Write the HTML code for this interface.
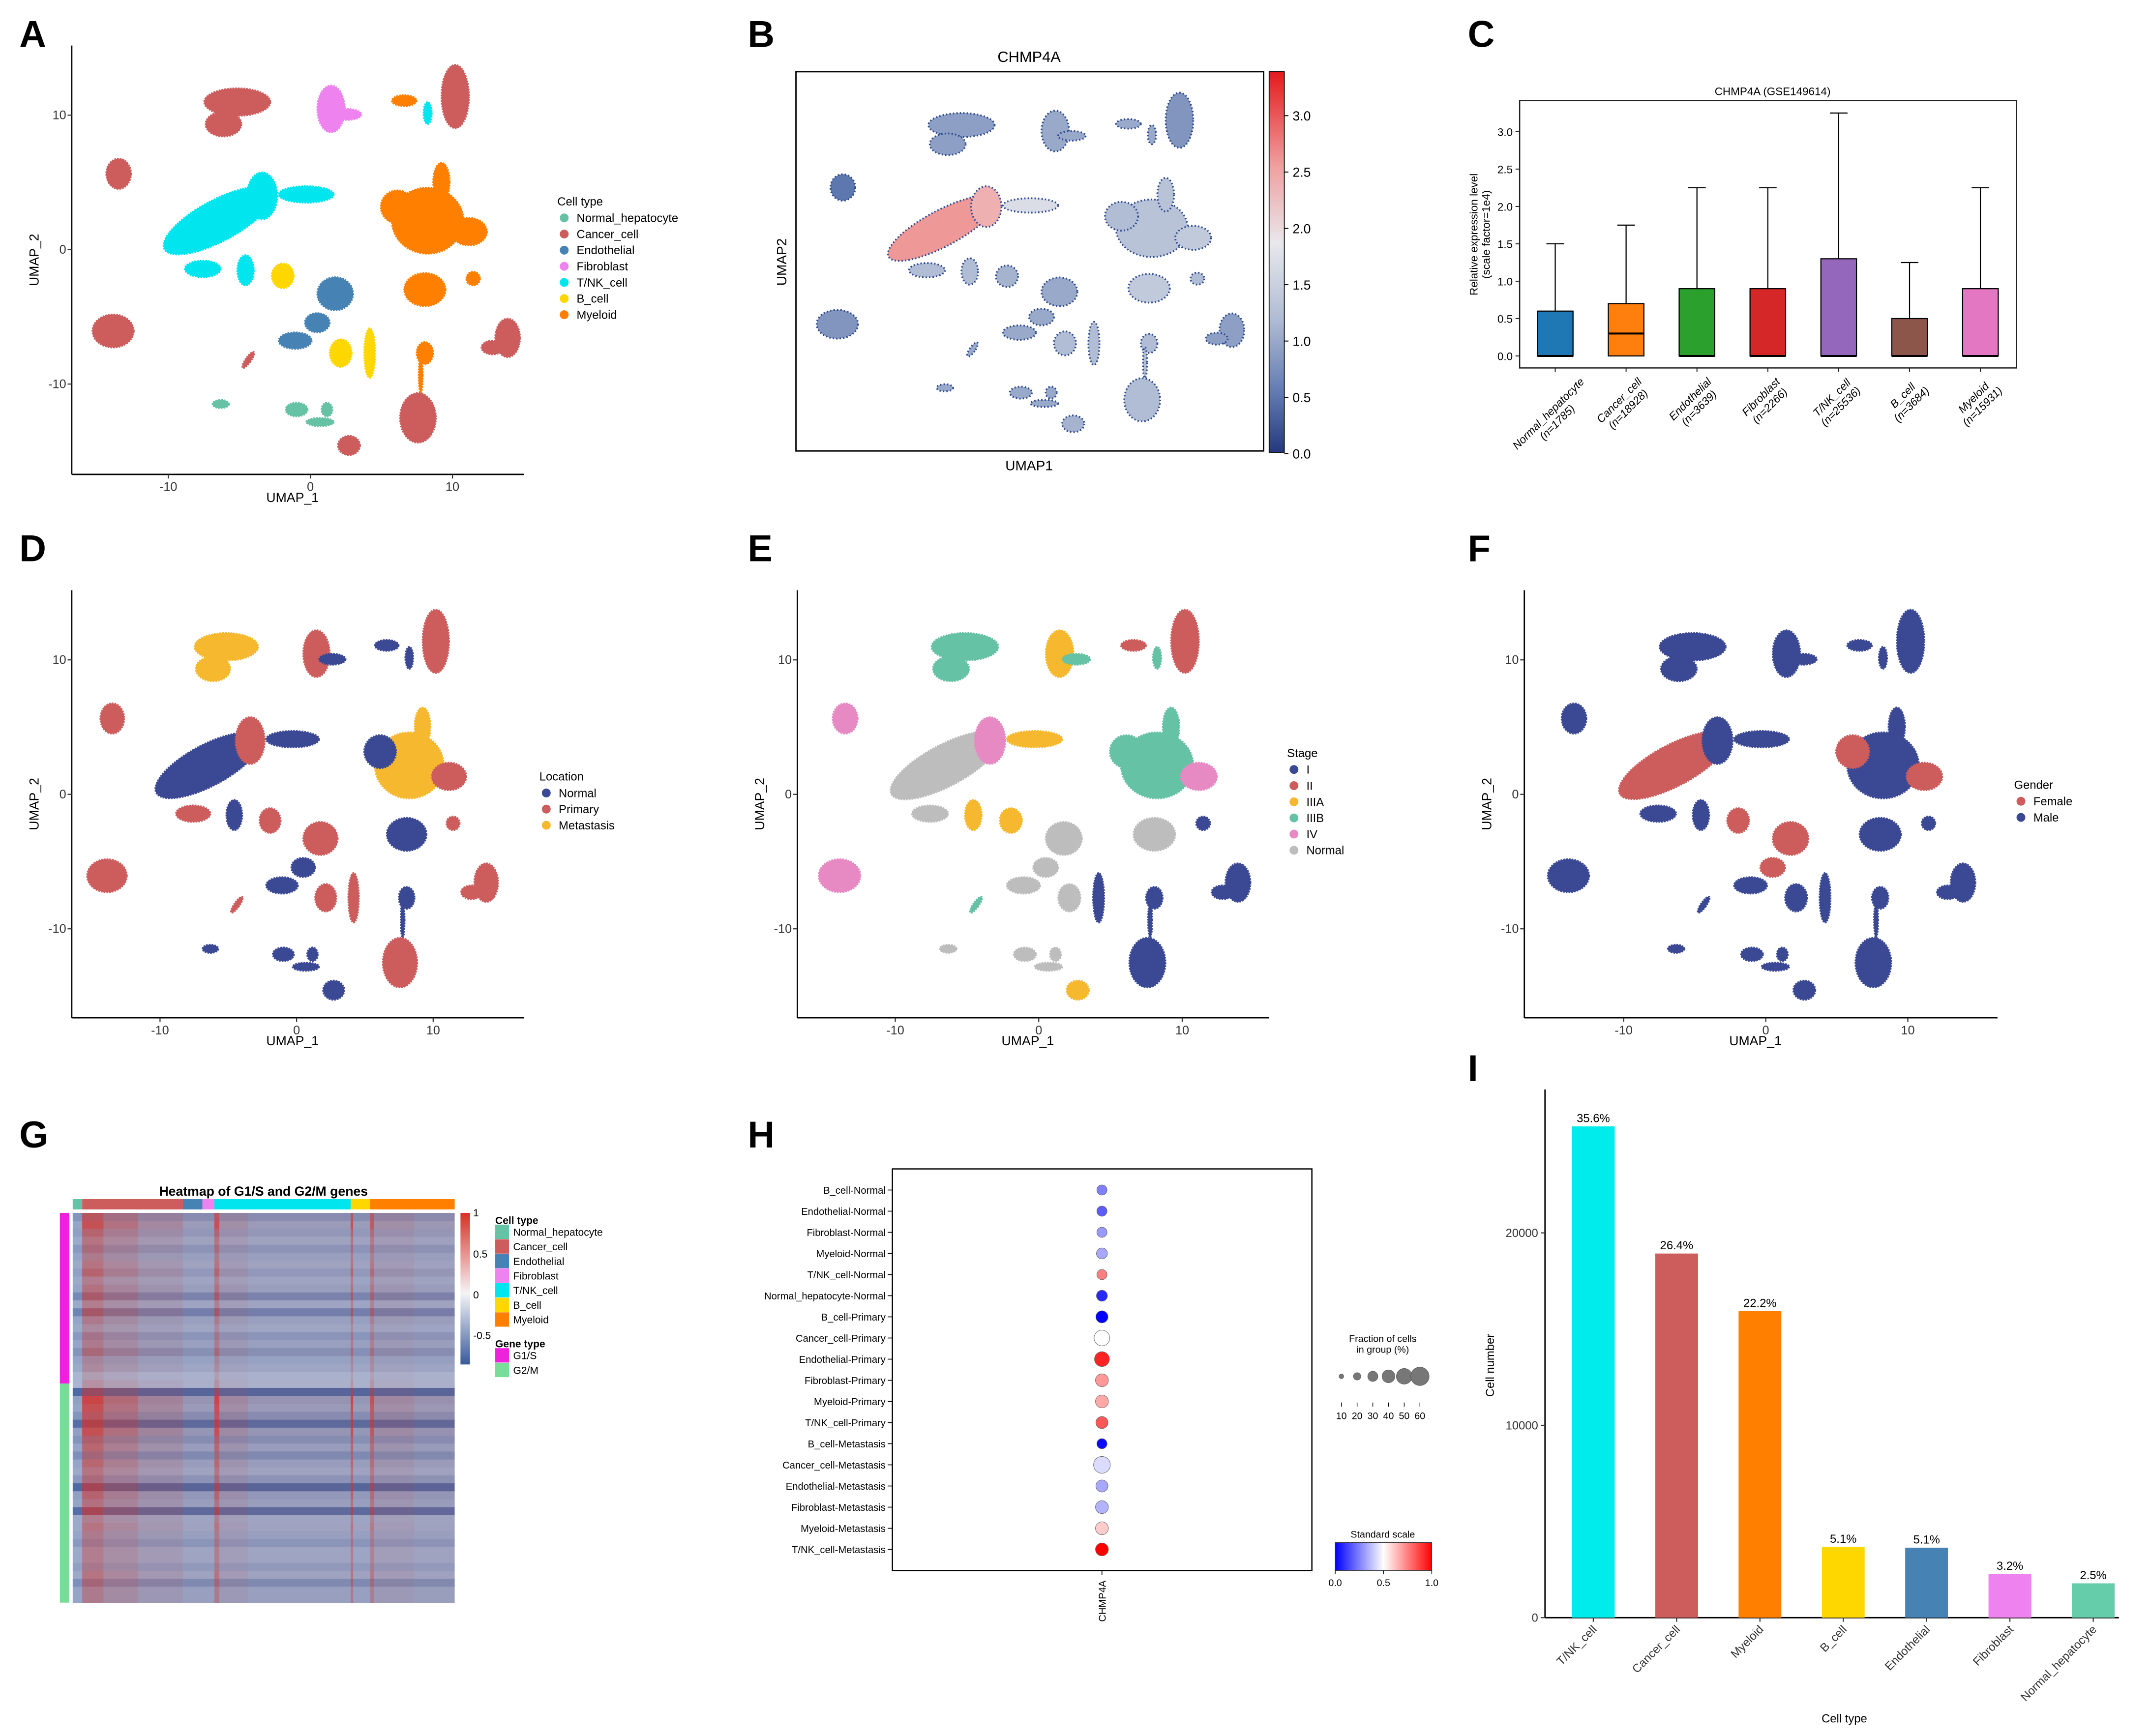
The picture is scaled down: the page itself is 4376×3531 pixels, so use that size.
<!DOCTYPE html>
<html><head><meta charset="utf-8"><style>
html,body{margin:0;padding:0;background:#fff;}
svg{display:block;font-family:"Liberation Sans",Arial,sans-serif;}
</style></head><body>
<svg id="fig" xmlns="http://www.w3.org/2000/svg" width="4376" height="3531" viewBox="0 0 1560 1258.8" preserveAspectRatio="none">
<defs>
<linearGradient id="gB" x1="0" y1="0" x2="0" y2="1">
<stop offset="0" stop-color="#e41a1c"/><stop offset="0.25" stop-color="#f0a0a0"/><stop offset="0.45" stop-color="#e8e8ec"/><stop offset="0.65" stop-color="#b0bcd4"/><stop offset="0.85" stop-color="#5e78b0"/><stop offset="1" stop-color="#26397f"/>
</linearGradient>
<linearGradient id="gG" x1="0" y1="0" x2="0" y2="1">
<stop offset="0" stop-color="#d73027"/><stop offset="0.53" stop-color="#f4f4f6"/><stop offset="1" stop-color="#3a5a9a"/>
</linearGradient>
<linearGradient id="gH" x1="0" y1="0" x2="1" y2="0">
<stop offset="0" stop-color="#0000ff"/><stop offset="0.5" stop-color="#ffffff"/><stop offset="1" stop-color="#ff0000"/>
</linearGradient>
</defs>
<rect x="0" y="0" width="1560" height="1258.8" fill="#fff"/>
</svg>
<script>
// ---------- data ----------
const cellTypes=["Normal_hepatocyte","Cancer_cell","Endothelial","Fibroblast","T/NK_cell","B_cell","Myeloid"];
const cellColors=["#66c2a5","#cd5c5c","#4682b4","#ee82ee","#00e5ee","#ffd700","#ff7f00"];
const locNames=["Normal","Primary","Metastasis"];
const locColors=["#3b4994","#cd5c5c","#f5b82e"];
const stageNames=["I","II","IIIA","IIIB","IV","Normal"];
const stageColors=["#3b4994","#cd5c5c","#f5b82e","#66c2a5","#e78ac3","#bdbdbd"];
const genderNames=["Female","Male"];
const genderColors=["#cd5c5c","#3b4994"];
// cluster blobs in panel-A pixel space: cx, cy, rx, ry
const blobCX=[172,162,240,252,293,310,330,86,158,190,222,147,178,205,310,288,340,320,308,343,243,230,214,247,268,180,308,305,368,357,82,160,215,232,237,253,303];
const blobCY=[74,90,79,83,73,82,70,126,160,142,141,195,196,200,160,150,168,132,210,202,213,234,247,256,256,261,256,272,245,252,240,293,297,306,297,323,303];
const blobRX=[24,13,10,10,9,3,10,9,44,11,20,13,6,8,26,12,13,6,15,5,13,9,12,8,4,2,6,1.5,9,8,15,6,8,10,4,8,13];
const blobRY=[10,9,17,4,4,8,23,11,15,17,6,6,11,9,24,12,10,14,12,5,12,7,6,10,18,7,8,13,14,5,12,3,5,3,5,7,18];
const blobRot=[0,0,0,0,0,0,0,0,-28,0,0,0,0,0,0,0,0,0,0,0,0,0,0,0,0,35,0,0,0,0,0,0,0,0,0,0,0];
const blobCell=[1,1,3,3,6,4,1,1,4,4,4,4,4,5,6,6,6,6,6,6,2,2,2,5,5,1,6,6,1,1,1,0,0,0,0,1,1];
const blobLoc=[2,2,1,0,0,0,1,1,0,1,0,1,0,1,2,0,1,2,0,1,1,0,0,1,1,1,0,0,1,1,1,0,0,0,0,0,1];
const blobStage=[3,3,2,3,1,3,1,4,5,4,2,5,2,2,3,3,4,3,5,0,5,5,5,5,0,3,0,0,0,0,4,5,5,5,5,2,0];
const blobGender=[1,1,1,1,1,1,1,1,0,1,1,1,1,0,1,0,0,1,1,1,0,0,1,1,1,1,1,1,1,1,1,1,1,1,1,1,1];
const blobExpr=[0.9,0.9,1.0,1.0,1.0,1.0,0.8,0.5,2.6,2.4,1.7,1.2,1.2,1.1,1.3,1.2,1.4,1.3,1.4,1.2,1.0,1.0,1.0,1.2,1.2,1.0,1.2,1.2,0.9,0.9,0.8,1.0,1.0,1.0,1.0,1.1,1.2];
// C: box plot
const boxCats=["Normal_hepatocyte","Cancer_cell","Endothelial","Fibroblast","T/NK_cell","B_cell","Myeloid"];
const boxN=["n=1785","n=18928","n=3639","n=2266","n=25536","n=3684","n=15931"];
const boxQ1=[0,0,0,0,0,0,0];
const boxMed=[0,0.3,0,0,0,0,0];
const boxQ3=[0.6,0.7,0.9,0.9,1.3,0.5,0.9];
const boxWhisk=[1.5,1.75,2.25,2.25,3.25,1.25,2.25];
const boxColors=["#1f77b4","#ff7f0e","#2ca02c","#d62728","#9467bd","#8c564b","#e377c2"];
const boxTicks=[0,0.5,1,1.5,2,2.5,3];
// G: heatmap
const hmSegNames=["Normal_hepatocyte","Cancer_cell","Endothelial","Fibroblast","T/NK_cell","B_cell","Myeloid"];
const hmSegEdges=[52.7,59.6,132.6,146.7,155.4,254.2,268.3,329.6];
const rowShade=[-0.5,-0.35,-0.4,-0.3,-0.45,-0.35,-0.3,-0.4,-0.3,-0.35,-0.6,-0.3,-0.65,-0.35,-0.3,-0.45,-0.35,-0.5,-0.35,-0.3,-0.2,
 -0.2,-0.9,-0.4,-0.35,-0.5,-0.85,-0.4,-0.5,-0.35,-0.55,-0.35,-0.3,-0.45,-0.9,-0.4,-0.35,-0.85,-0.3,-0.3,-0.35,-0.45,-0.3,-0.3,-0.4,-0.3,-0.55,-0.35,-0.35];
const rowHot=[0.7,0.8,0.6,0.5,0.5,0.4,0.5,0.6,0.4,0.5,0.6,0.4,0.6,0.4,0.3,0.4,0.4,0.5,0.3,0.3,0.2,
 0.3,0.6,0.9,0.8,0.7,0.8,0.8,0.6,0.6,0.5,0.6,0.5,0.5,0.7,0.6,0.5,0.7,0.4,0.5,0.4,0.4,0.4,0.4,0.4,0.5,0.5,0.4,0.4];
const hotX0=[59.6,75,100,132.6,155.4,159,180,254.2,256,268.3,271,300];
const hotX1=[75,100,132.6,155.4,159,180,254.2,256,268.3,271,300,329.6];
const hotS=[0.9,0.55,0.3,0.12,0.9,0.25,0.12,0.9,0.1,0.8,0.25,0.15];
// H: dot plot
const dotRows=["B_cell-Normal","Endothelial-Normal","Fibroblast-Normal","Myeloid-Normal","T/NK_cell-Normal","Normal_hepatocyte-Normal","B_cell-Primary","Cancer_cell-Primary","Endothelial-Primary","Fibroblast-Primary","Myeloid-Primary","T/NK_cell-Primary","B_cell-Metastasis","Cancer_cell-Metastasis","Endothelial-Metastasis","Fibroblast-Metastasis","Myeloid-Metastasis","T/NK_cell-Metastasis"];
const dotFrac=[30,30,30,33,30,33,37,50,47,40,40,37,30,54,37,40,40,40];
const dotScale=[0.25,0.18,0.3,0.33,0.75,0.08,0.0,0.5,0.93,0.7,0.67,0.83,0.02,0.43,0.33,0.35,0.6,1.0];
const fracLegend=[10,20,30,40,50,60];
// I: bars
const barCats=["T/NK_cell","Cancer_cell","Myeloid","B_cell","Endothelial","Fibroblast","Normal_hepatocyte"];
const barVals=[25536,18928,15931,3684,3639,2266,1785];
const barPct=["35.6%","26.4%","22.2%","5.1%","5.1%","3.2%","2.5%"];
const barColors=["#00ebeb","#cd5c5c","#ff7f00","#ffd700","#4682b4","#ee82ee","#66cdaa"];
const barTicks=[0,10000,20000];

// ---------- helpers ----------
const NS="http://www.w3.org/2000/svg";
const svg=document.getElementById("fig");
function mk(tag,attrs,parent){const e=document.createElementNS(NS,tag);for(const k in attrs)e.setAttribute(k,attrs[k]);(parent||svg).appendChild(e);return e;}
function tx(x,y,s,size,anchor,parent,extra){const e=mk("text",Object.assign({x:x,y:y,"font-size":size,"text-anchor":anchor||"start",fill:"#000"},extra||{}),parent);e.textContent=s;return e;}
function grp(parent){return mk("g",{},parent);}

// panel letters
const letters=[["A",14,34],["B",542,34],["C",1064,34],["D",14,407],["E",542,407],["F",1064,407],["G",14,832],["H",542,832],["I",1064,784]];
letters.forEach(l=>{const t=tx(l[1],l[2],l[0],27,"start",svg,{"font-weight":"bold"});

});

// ---------- UMAP panels ----------
function umapPanel(id,ox,oy,sx,sy,colorFn,axis,legend){
  const g=grp();
  
  
  const pts=grp(g);
  
  
  for(let i=0;i<blobCX.length;i++){
    const cx=ox+(blobCX[i]-225)*sx, cy=oy+(blobCY[i]-181)*sy;
    const c=colorFn(i);
    const e=mk("ellipse",{cx:cx,cy:cy,rx:blobRX[i]*sx,ry:blobRY[i]*sy,fill:c.fill,stroke:c.stroke||c.fill,"stroke-width":c.sw||1.2,"stroke-dasharray":c.dash||"1.2 0.8",transform:"rotate("+blobRot[i]+" "+cx+" "+cy+")"},pts);
    
    
  }
  if(axis){
    const ax=grp(g);
    
    
    mk("line",{x1:axis.x0,y1:axis.y1,x2:axis.x1,y2:axis.y1,stroke:"#000","stroke-width":1},ax);
    mk("line",{x1:axis.x0,y1:axis.y0,x2:axis.x0,y2:axis.y1,stroke:"#000","stroke-width":1},ax);
    [-10,0,10].forEach(u=>{const x=ox+u*10.3*sx;
      mk("line",{x1:x,y1:axis.y1,x2:x,y2:axis.y1+3,stroke:"#333","stroke-width":0.8},ax);
      const t=tx(x,axis.y1+12,String(u),9,"middle",ax,{fill:"#333"});
      
      });
    [10,0,-10].forEach(v=>{const y=oy-v*9.75*sy;
      mk("line",{x1:axis.x0-3,y1:y,x2:axis.x0,y2:y,stroke:"#333","stroke-width":0.8},ax);
      const t=tx(axis.x0-4,y+3,String(v),9,"end",ax,{fill:"#333"});
      
      });
    const xl=tx((axis.x0+axis.x1)/2-4,axis.y1+20,"UMAP_1",9.5,"middle",ax);
    
    
    const yc=(axis.y0+axis.y1)/2;
    const yl=tx(axis.x0-24,yc,"UMAP_2",9.5,"middle",ax,{transform:"rotate(-90 "+(axis.x0-24)+" "+yc+")"});
    
    
  }
  if(legend){
    const lg=grp(g);
    
    
    const t=tx(legend.x,legend.y,legend.title,8.5,"start",lg);
    
    
    legend.names.forEach((n,k)=>{const y=legend.y+12+k*11.7;
      const c=mk("circle",{cx:legend.x+5,cy:y-3,r:3.2,fill:legend.colors[k]},lg);
      
      
      const tt=tx(legend.x+14,y,n,8.5,"start",lg);
      
      });
  }
  return g;
}
umapPanel("a",225,181,1,1,i=>({fill:cellColors[blobCell[i]]}),{x0:52,x1:380,y0:33,y1:344},{x:404,y:149,title:"Cell type",names:cellTypes,colors:cellColors});
umapPanel("d",215,576,99/103,1,i=>({fill:locColors[blobLoc[i]]}),{x0:52,x1:380,y0:428,y1:738},{x:391,y:566,title:"Location",names:locNames,colors:locColors});
umapPanel("e",753,576,104/103,1,i=>({fill:stageColors[blobStage[i]]}),{x0:578,x1:920,y0:428,y1:738},{x:933,y:549,title:"Stage",names:stageNames,colors:stageColors});
umapPanel("f",1280,576,1,1,i=>({fill:genderColors[blobGender[i]]}),{x0:1105,x1:1448,y0:428,y1:738},{x:1460,y:572,title:"Gender",names:genderNames,colors:genderColors});

// B: expression
function exprColor(v){const f=Math.max(0,Math.min(1,v/3.4));
  const stops=[[0,[38,57,127]],[0.15,[94,120,176]],[0.35,[176,188,212]],[0.55,[232,232,236]],[0.75,[240,160,160]],[1,[228,26,28]]];
  for(let k=1;k<stops.length;k++){if(f<=stops[k][0]){const a=stops[k-1],b=stops[k],t=(f-a[0])/(b[0]-a[0]);
    return "rgb("+a[1].map((c,j)=>Math.round(c+(b[1][j]-c)*t)).join(",")+")";}}return "rgb(228,26,28)";}
const bFrame=mk("rect",{x:577,y:52,width:339,height:275,fill:"none",stroke:"#000","stroke-width":1});


umapPanel("b",525+225,26.3+0.87*181,1,0.87,i=>({fill:exprColor(blobExpr[i]),stroke:"#2e4a8f",sw:1.3,dash:"1 1.5"}),null,null);
{const t=tx(746,45,"CHMP4A",11,"middle");
 const x=tx(746,341,"UMAP1",10,"middle");
 const y=tx(570,190,"UMAP2",10,"middle",svg,{transform:"rotate(-90 570 190)"});
 const cb=mk("rect",{x:920,y:52,width:11,height:276,fill:"url(#gB)",stroke:"#000","stroke-width":0.6});
 
 [0,0.5,1,1.5,2,2.5,3].forEach(v=>{const y=329-v*81.7;
   mk("line",{x1:931,y1:y,x2:934,y2:y,stroke:"#000","stroke-width":0.7});
   const t=tx(937,y+3.5,v.toFixed(1),9.5,"start");});}

// ---------- C: box plot ----------
{const g=grp();
 const X0=1101.6,X1=1461.7,Y0=72.9,Y1=266.8;
 const yS=v=>258.1-v*54.2;
 const xS=i=>1127.4+i*51.37;
 const fr=mk("rect",{x:X0,y:Y0,width:X1-X0,height:Y1-Y0,fill:"none",stroke:"#222","stroke-width":0.9},g);
 
 const t=tx(1285,69,"CHMP4A (GSE149614)",8,"middle",g);
 boxTicks.forEach(v=>{const y=yS(v);mk("line",{x1:X0-3,y1:y,x2:X0,y2:y,stroke:"#222","stroke-width":0.7},g);
   const l=tx(X0-5,y+3,v.toFixed(1),8,"end",g);});
 const yl1=tx(1071,170,"Relative expression level",8,"middle",g,{transform:"rotate(-90 1071 170)"});
 
 const yl2=tx(1080,170,"(scale factor=1e4)",8,"middle",g,{transform:"rotate(-90 1080 170)"});
 
 boxCats.forEach((c,i)=>{const x=xS(i),hw=12.9;
   const w=mk("line",{x1:x,y1:yS(boxQ3[i]),x2:x,y2:yS(boxWhisk[i]),stroke:"#000","stroke-width":0.8},g);
   
   mk("line",{x1:x-6.4,y1:yS(boxWhisk[i]),x2:x+6.4,y2:yS(boxWhisk[i]),stroke:"#000","stroke-width":0.8},g);
   const b=mk("rect",{x:x-hw,y:yS(boxQ3[i]),width:2*hw,height:yS(boxQ1[i])-yS(boxQ3[i]),fill:boxColors[i],stroke:"#000","stroke-width":0.8},g);
   
   const m=mk("line",{x1:x-hw,y1:yS(boxMed[i]),x2:x+hw,y2:yS(boxMed[i]),stroke:"#000","stroke-width":1.4},g);
   
   mk("line",{x1:x,y1:Y1,x2:x,y2:Y1+3,stroke:"#222","stroke-width":0.7},g);
   const lg=grp(g);
   const a=tx(0,-1.5,c,8,"middle",lg,{"font-style":"italic"});
   const bb=tx(0,7.5,"("+boxN[i]+")",8,"middle",lg,{"font-style":"italic"});
   const L=Math.max(a.getComputedTextLength(),bb.getComputedTextLength());
   const cy=272+(L+18)*0.707/2, cx=x-2;
   lg.setAttribute("transform","translate("+cx+" "+cy+") rotate(-45)");});}

// ---------- G: heatmap ----------
{const g=grp();
 const t=tx(191,867,"Heatmap of G1/S and G2/M genes",9.5,"middle",g,{"font-weight":"bold"});
 
 for(let k=0;k<hmSegNames.length;k++){const r=mk("rect",{x:hmSegEdges[k],y:869.5,width:hmSegEdges[k+1]-hmSegEdges[k],height:7.5,fill:cellColors[k]},g);
   }
 const Y0=879.5,Y1=1162.1,rh=(Y1-Y0)/rowShade.length;
 const shadeColor=v=>{const a=[240,240,244],b=[58,90,154];const t=Math.min(1,-v/1.05);return "rgb("+a.map((c,j)=>Math.round(c+(b[j]-c)*(0.25+0.75*t))).join(",")+")";};
 rowShade.forEach((v,i)=>{const r=mk("rect",{x:52.7,y:Y0+i*rh,width:276.9,height:rh+0.2,fill:shadeColor(v)},g);
   
   hotX0.forEach((x0,k)=>{const h=mk("rect",{x:x0,y:Y0+i*rh,width:hotX1[k]-x0,height:rh+0.2,fill:"#d73027","fill-opacity":(hotS[k]*rowHot[i]).toFixed(3)},g);
     });});
 const gs=mk("rect",{x:43.4,y:879.5,width:6.9,height:123.7,fill:"#ee22dd"},g);
 const gm=mk("rect",{x:43.4,y:1003.2,width:6.9,height:158.9,fill:"#77dd99"},g);
 const cb=mk("rect",{x:333.8,y:879.5,width:6.9,height:109.9,fill:"url(#gG)"},g);
 [["1",882],["0.5",912],["0",941.5],["-0.5",971]].forEach(l=>{const e=tx(343,l[1],l[0],7.5,"start",g);});
 const lt=tx(359,887.5,"Cell type",7.5,"start",g,{"font-weight":"bold"});
 cellTypes.forEach((n,k)=>{const y=888+k*10.6;const s=mk("rect",{x:359,y:y,width:10,height:10.4,fill:cellColors[k]},g);
   
   const e=tx(372,y+8,n,7.5,"start",g);});
 const gt=tx(359,977,"Gene type",7.5,"start",g,{"font-weight":"bold"});
 [["G1/S","#ee22dd"],["G2/M","#77dd99"]].forEach((p,k)=>{const y=977.6+k*10.6;const s=mk("rect",{x:359,y:y,width:10,height:10.4,fill:p[1]},g);
   
   const e=tx(372,y+8,p[0],7.5,"start",g);});}

// ---------- H: dot plot ----------
{const g=grp();
 const fr=mk("rect",{x:646.9,y:847.6,width:304.1,height:291.2,fill:"none",stroke:"#000","stroke-width":0.9},g);
 
 const yR=i=>862.9+i*15.33, xD=798.8;
 const rad=f=>(2+0.29*f)/2.898;
 const col=v=>v<0.5?"rgb("+Math.round(510*v)+","+Math.round(510*v)+",255)":"rgb(255,"+Math.round(510*(1-v))+","+Math.round(510*(1-v))+")";
 dotRows.forEach((n,i)=>{const y=yR(i);
   mk("line",{x1:643.5,y1:y,x2:646.9,y2:y,stroke:"#000","stroke-width":0.6},g);
   const l=tx(642,y+2.7,n,7.2,"end",g);
   const c=mk("circle",{cx:xD,cy:y,r:rad(dotFrac[i]),fill:col(dotScale[i]),stroke:"#666","stroke-width":0.35},g);
   });
 mk("line",{x1:xD,y1:1138.8,x2:xD,y2:1142,stroke:"#000","stroke-width":0.6},g);
 const xl=tx(801.5,1161,"CHMP4A",7.2,"middle",g,{transform:"rotate(-90 801.5 1161)"});
 const f1=tx(1002.4,973,"Fraction of cells",7,"middle",g);
 const f2=tx(1002.4,981,"in group (%)",7,"middle",g);
 fracLegend.forEach((f,k)=>{const x=972.4+k*11.38;
   const c=mk("circle",{cx:x,cy:998,r:rad(f),fill:"#777",stroke:"#555","stroke-width":0.3},g);
   mk("line",{x1:x,y1:1017,x2:x,y2:1020,stroke:"#000","stroke-width":0.5},g);
   const t=tx(x,1029,String(f),7,"middle",g);});
 const st=tx(1002.4,1115,"Standard scale",7,"middle",g);
 const cb=mk("rect",{x:967.9,y:1118.5,width:70,height:20.3,fill:"url(#gH)",stroke:"#333","stroke-width":0.4},g);
 [["0.0",967.9],["0.5",1002.9],["1.0",1037.9]].forEach(p=>{mk("line",{x1:p[1],y1:1138.8,x2:p[1],y2:1141.5,stroke:"#000","stroke-width":0.5},g);
   const t=tx(p[1],1150,p[0],7,"middle",g);});}

// ---------- I: bar chart ----------
{const g=grp();
 const yS=v=>1173-v*0.01395, xS=i=>1155+i*60.4, bw=31;
 mk("line",{x1:1120,y1:790,x2:1120,y2:1173,stroke:"#000","stroke-width":1},g);
 mk("line",{x1:1120,y1:1173,x2:1536,y2:1173,stroke:"#000","stroke-width":1},g);
 barTicks.forEach(v=>{const y=yS(v);mk("line",{x1:1117,y1:y,x2:1120,y2:y,stroke:"#333","stroke-width":0.8},g);
   const t=tx(1115,y+3,String(v),8.5,"end",g,{fill:"#333"});});
 barCats.forEach((c,i)=>{const x=xS(i);
   const b=mk("rect",{x:x-bw/2,y:yS(barVals[i]),width:bw,height:1173-yS(barVals[i]),fill:barColors[i]},g);
   
   const p=tx(x,yS(barVals[i])-3,barPct[i],8.5,"middle",g);
   mk("line",{x1:x,y1:1173,x2:x,y2:1176,stroke:"#333","stroke-width":0.8},g);
   const l=tx(x+3,1182,c,8.5,"end",g,{fill:"#333",transform:"rotate(-45 "+(x+3)+" 1182)"});});
 const xt=tx(1337,1249,"Cell type",8.5,"middle",g);
 const yt=tx(1083,990,"Cell number",8.5,"middle",g,{transform:"rotate(-90 1083 990)"});}
</script>
</body></html>
